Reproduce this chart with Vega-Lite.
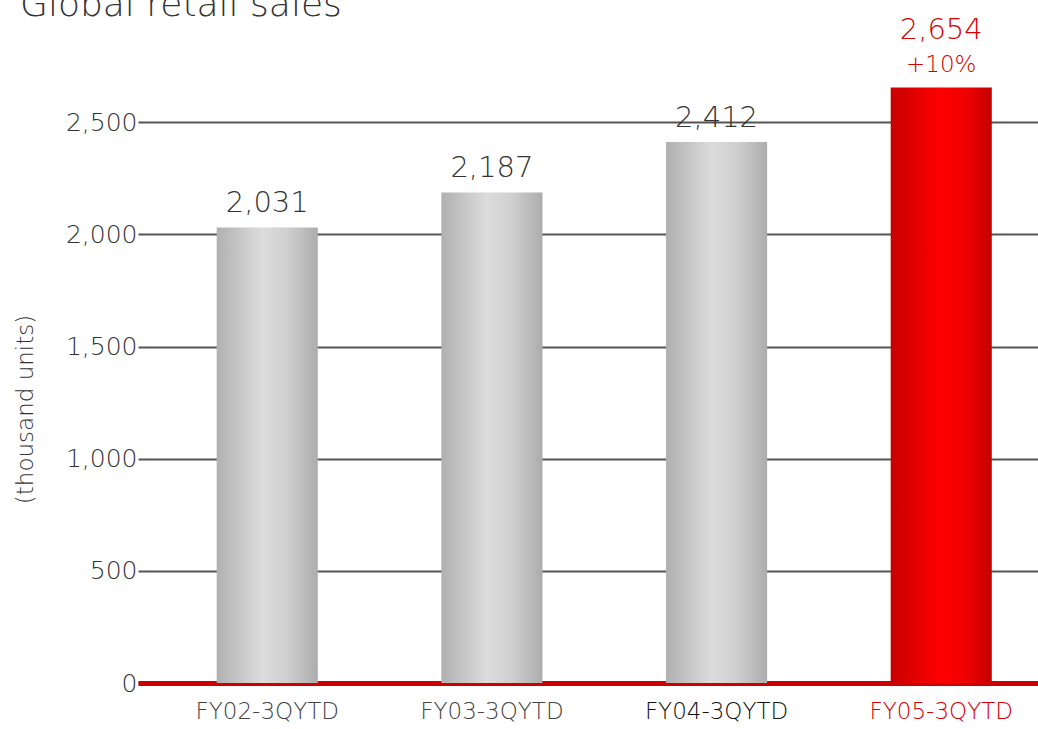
{
  "$schema": "https://vega.github.io/schema/vega-lite/v6.json",
  "autosize": "none",
  "width": 900,
  "height": 673,
  "padding": {"left": 138, "top": 10, "right": 0, "bottom": 46},
  "background": "white",
  "title": {
    "text": "Global retail sales",
    "anchor": "start",
    "frame": "group",
    "font": "DejaVu Sans",
    "fontSize": 36,
    "fontWeight": 200,
    "color": "#333333",
    "baseline": "alphabetic",
    "offset": 0,
    "dx": -118,
    "dy": 42
  },
  "data": {
    "values": [
      {"period": "FY02-3QYTD", "sales": 2031, "label": "2,031", "change": ""},
      {"period": "FY03-3QYTD", "sales": 2187, "label": "2,187", "change": ""},
      {"period": "FY04-3QYTD", "sales": 2412, "label": "2,412", "change": ""},
      {"period": "FY05-3QYTD", "sales": 2654, "label": "2,654", "change": "+10%"}
    ]
  },
  "config": {
    "view": {"stroke": null},
    "font": "DejaVu Sans"
  },
  "encoding": {
    "x": {
      "field": "period",
      "type": "nominal",
      "sort": null,
      "scale": {"paddingInner": 0.55, "paddingOuter": 0.278, "align": 0.63},
      "axis": {
        "title": null,
        "labelAngle": 0,
        "labelFont": "DejaVu Sans",
        "labelFontSize": 23,
        "labelFontWeight": 200,
        "labelPadding": 17,
        "labelColor": {
          "condition": [
            {"test": "datum.value === 'FY05-3QYTD'", "value": "#d40000"},
            {"test": "datum.value === 'FY04-3QYTD'", "value": "#111111"}
          ],
          "value": "#444444"
        },
        "ticks": false,
        "domainColor": "#cc0000",
        "domainWidth": 5,
        "grid": false
      }
    },
    "y": {
      "field": "sales",
      "type": "quantitative",
      "scale": {"domain": [0, 3000], "nice": false},
      "axis": {
        "title": "(thousand units)",
        "titleFont": "DejaVu Sans",
        "titleFontSize": 23,
        "titleFontWeight": 200,
        "titleColor": "#333333",
        "titleAngle": -90,
        "titleAlign": "center",
        "titleBaseline": "bottom",
        "titleX": -101,
        "titleY": 399,
        "values": [0, 500, 1000, 1500, 2000, 2500],
        "labelFont": "DejaVu Sans",
        "labelFontSize": 25,
        "labelFontWeight": 200,
        "labelColor": "#333333",
        "labelPadding": 1,
        "ticks": false,
        "domain": false,
        "grid": true,
        "gridColor": "#555555",
        "gridWidth": 2
      }
    }
  },
  "layer": [
    {
      "mark": {"type": "bar"},
      "encoding": {
        "color": {
          "condition": {
            "test": "datum.period === 'FY05-3QYTD'",
            "value": {
              "gradient": "linear",
              "x1": 0, "y1": 0, "x2": 1, "y2": 0,
              "stops": [
                {"offset": 0, "color": "#c80000"},
                {"offset": 0.5, "color": "#ff0000"},
                {"offset": 0.75, "color": "#ee0000"},
                {"offset": 1, "color": "#c40000"}
              ]
            }
          },
          "value": {
            "gradient": "linear",
            "x1": 0, "y1": 0, "x2": 1, "y2": 0,
            "stops": [
              {"offset": 0, "color": "#b0b0b0"},
              {"offset": 0.45, "color": "#dcdcdc"},
              {"offset": 0.7, "color": "#cfcfcf"},
              {"offset": 1, "color": "#acacac"}
            ]
          }
        }
      }
    },
    {
      "transform": [{"filter": "datum.change === ''"}],
      "mark": {
        "type": "text",
        "baseline": "alphabetic",
        "dy": -15,
        "fontSize": 29,
        "fontWeight": 200,
        "font": "DejaVu Sans",
        "color": "#333333"
      },
      "encoding": {
        "text": {"field": "label"}
      }
    },
    {
      "transform": [{"filter": "datum.change !== ''"}],
      "mark": {
        "type": "text",
        "baseline": "alphabetic",
        "dy": -49,
        "fontSize": 29,
        "fontWeight": 200,
        "font": "DejaVu Sans",
        "color": "#d40000"
      },
      "encoding": {
        "text": {"field": "label"}
      }
    },
    {
      "transform": [{"filter": "datum.change !== ''"}],
      "mark": {
        "type": "text",
        "baseline": "alphabetic",
        "dy": -16,
        "fontSize": 23,
        "fontWeight": 200,
        "font": "DejaVu Sans",
        "color": "#d40000"
      },
      "encoding": {
        "text": {"field": "change"}
      }
    }
  ]
}
